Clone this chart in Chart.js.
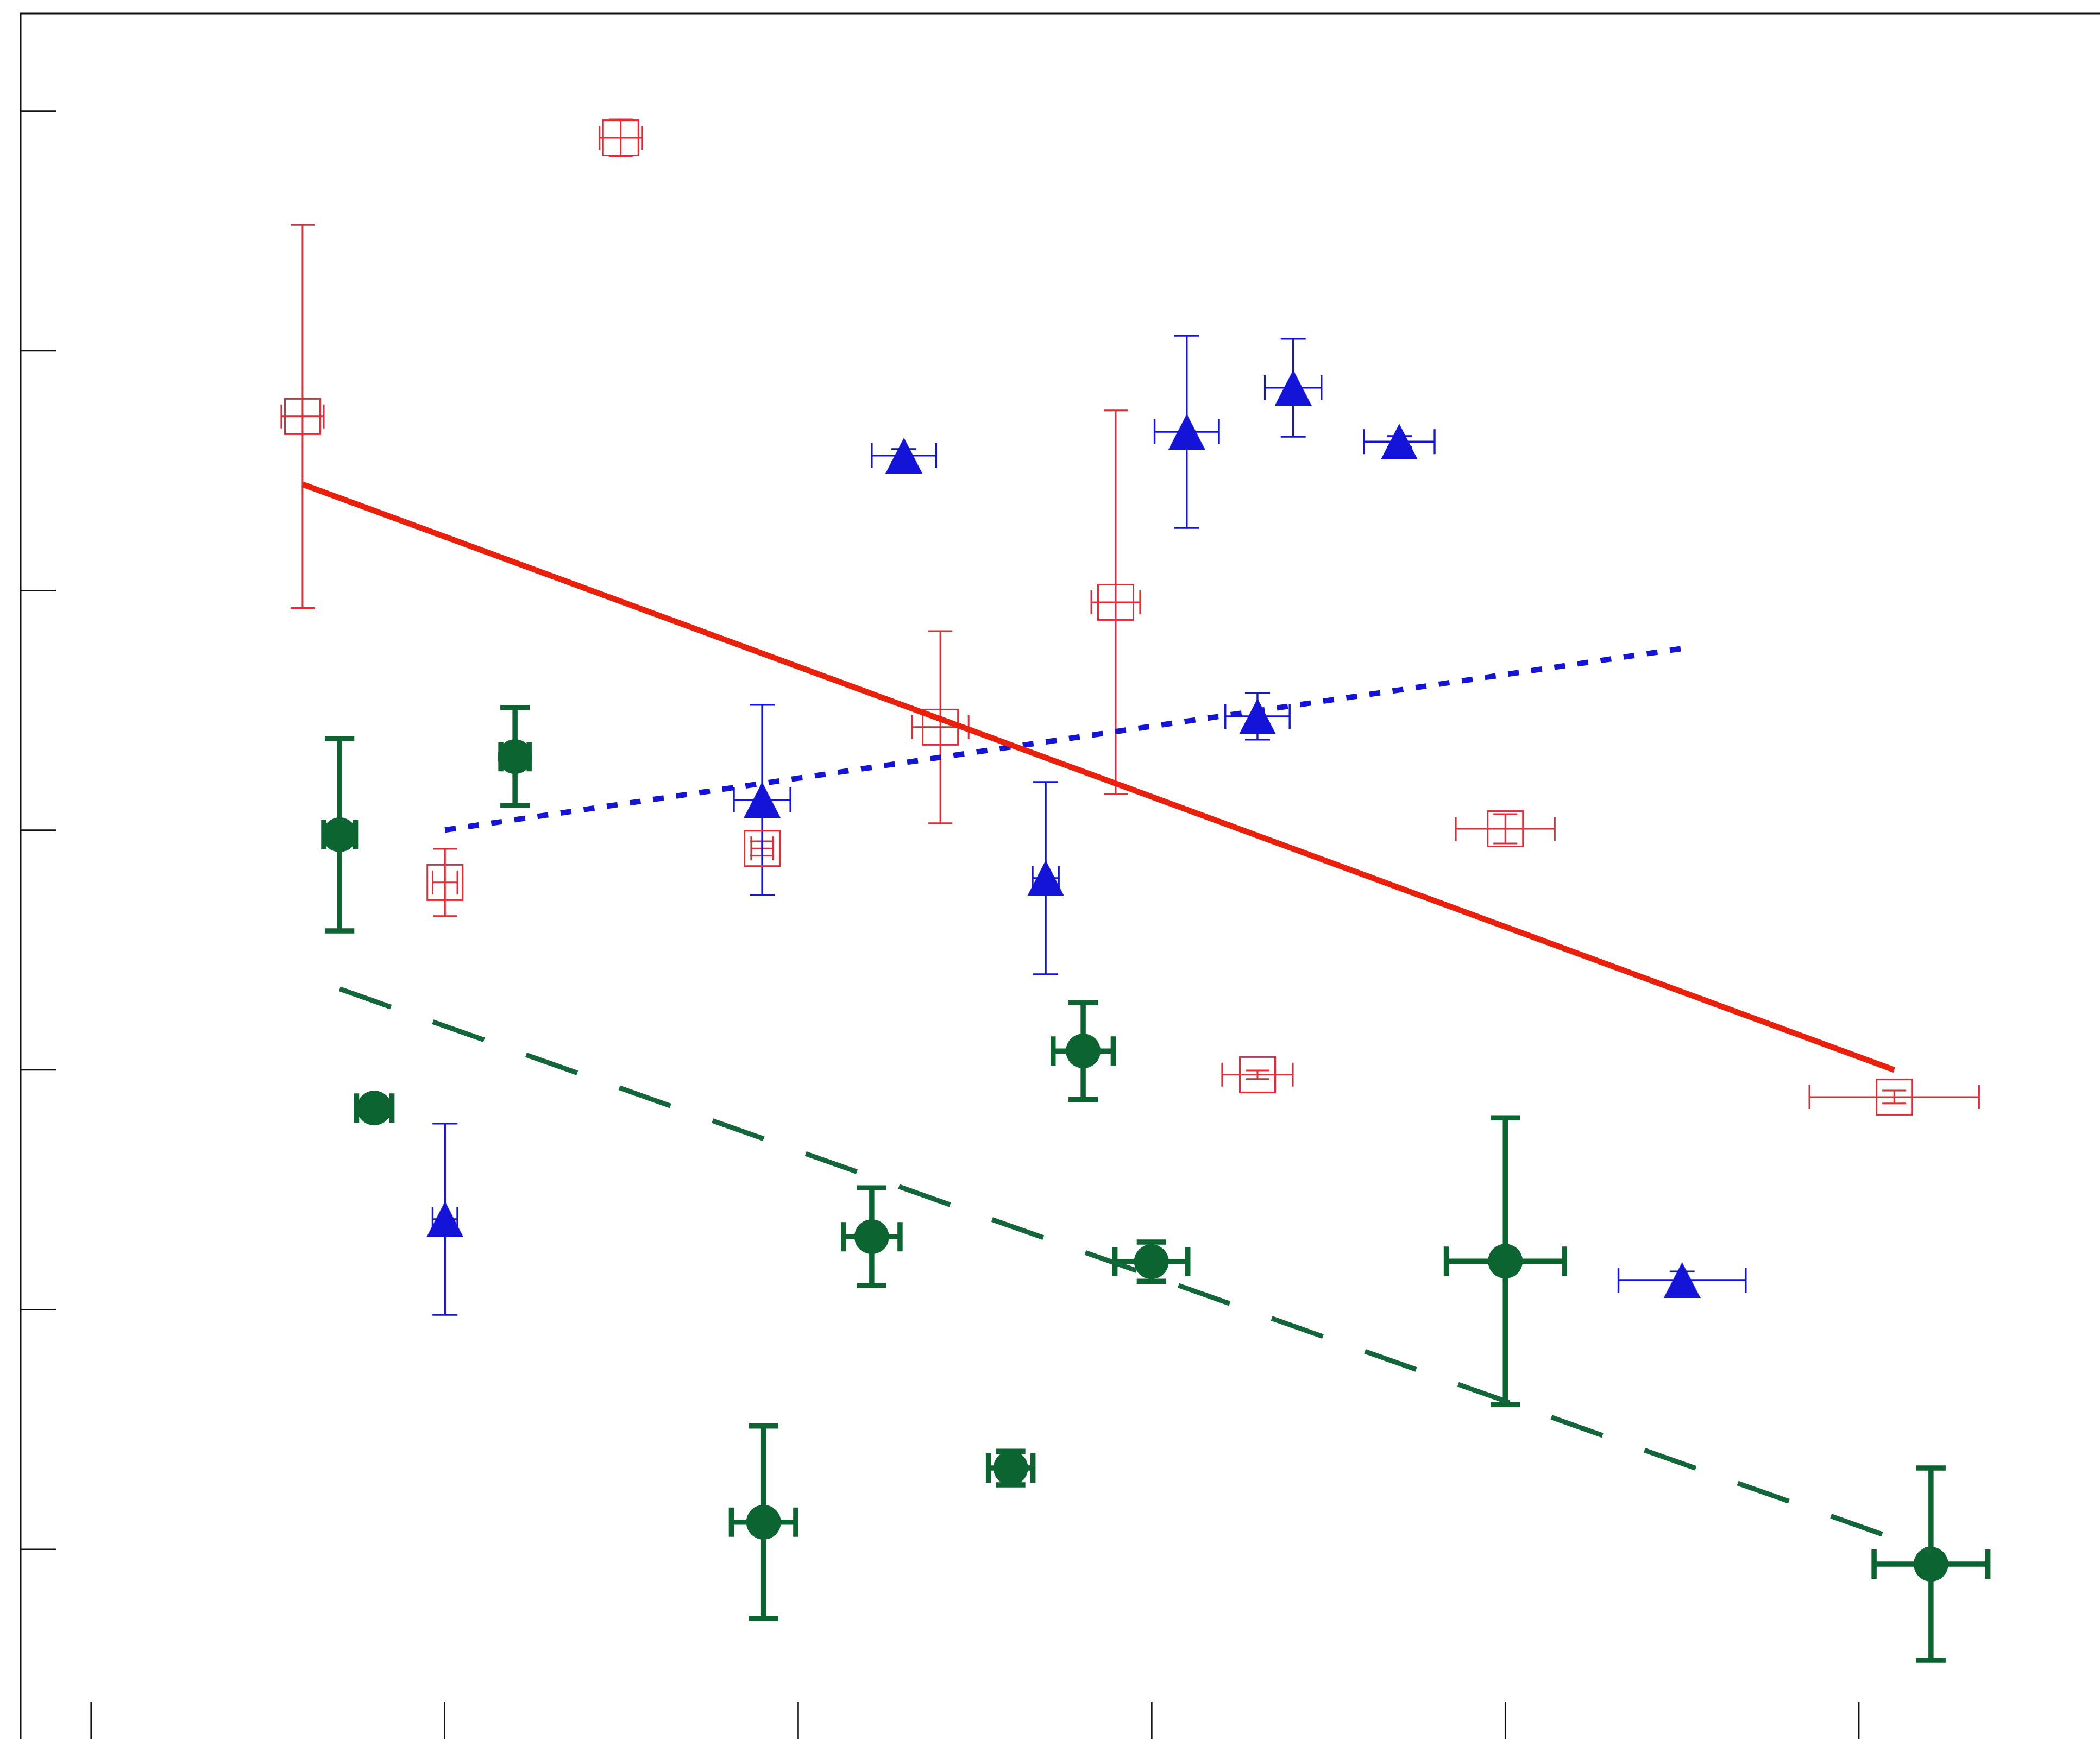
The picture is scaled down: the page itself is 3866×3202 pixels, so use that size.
<!DOCTYPE html>
<html>
<head>
<meta charset="utf-8">
<script src="https://cdn.jsdelivr.net/npm/chart.js@4.4.1/dist/chart.umd.min.js"></script>
<style>
  html, body { margin: 0; padding: 0; background: #ffffff; overflow: hidden; }
  #wrap { position: relative; width: 3866px; height: 3202px; }
  canvas { display: block; }
</style>
</head>
<body>
<div id="wrap"><canvas id="chart" width="3866" height="3202"></canvas></div>
<script>
// Axis extents and tick positions (axes carry tick marks only, no labels)
const xRange = [-0.1993, 5.682];
const yRange = [-0.7914, 6.4069];
const xTicks = [0, 1, 2, 3, 4, 5];
const yTicks = [0, 1, 2, 3, 4, 5, 6];

// Series A: open red squares
const squareX    = [0.598, 1.498, 1.001, 1.898, 2.402, 2.898, 3.299, 4.000, 5.100];
const squareY    = [4.726, 5.888, 2.782, 2.924, 3.430, 3.951, 1.980, 3.006, 1.887];
const squareXErr = [0.060, 0.060, 0.035, 0.031, 0.080, 0.069, 0.100, 0.140, 0.240];
const squareYErr = [0.799, 0.077, 0.140, 0.030, 0.401, 0.800, 0.018, 0.061, 0.027];

// Series B: filled blue triangles
const triangleX    = [1.001, 1.898, 2.299, 2.700, 3.099, 3.299, 3.400, 3.700, 4.500];
const triangleY    = [1.377, 3.126, 4.563, 2.800, 4.662, 3.475, 4.846, 4.621, 1.123];
const triangleXErr = [0.035, 0.080, 0.091, 0.037, 0.091, 0.091, 0.080, 0.100, 0.180];
const triangleYErr = [0.399, 0.397, 0.027, 0.401, 0.401, 0.097, 0.204, 0.023, 0.036];

// Series C: filled green circles
const circleX    = [0.703, 0.801, 1.199, 1.902, 2.208, 2.601, 2.806, 2.999, 4.000, 5.204];
const circleY    = [2.981, 1.841, 3.307, 0.113, 1.304, 0.339, 2.079, 1.200, 1.202, -0.062];
const circleXErr = [0.045, 0.050, 0.040, 0.091, 0.080, 0.063, 0.085, 0.103, 0.167, 0.161];
const circleYErr = [0.401, 0.030, 0.204, 0.401, 0.204, 0.070, 0.202, 0.082, 0.598, 0.401];

// Linear trend lines (end points)
const squareFitX   = [0.598, 5.100];
const squareFitY   = [4.443, 2.000];
const triangleFitX = [1.001, 4.500];
const triangleFitY = [3.001, 3.758];
const circleFitX   = [0.703, 5.204];
const circleFitY   = [2.338, -0.009];

const RED = '#e52a36';
const RED_LINE = '#e8200c';
const BLUE = '#1414d8';
const GREEN = '#0c6530';
const GREEN_LINE = '#13663a';

const toPoints = (xs, ys) => xs.map((x, i) => ({ x: x, y: ys[i] }));

// Marker images
function squareMarker() {
  const c = document.createElement('canvas');
  c.width = 70; c.height = 70;
  const g = c.getContext('2d');
  g.strokeStyle = RED; g.lineWidth = 3;
  g.strokeRect(2.5, 2.5, 65, 65);
  return c;
}
function triangleMarker() {
  const c = document.createElement('canvas');
  c.width = 68; c.height = 66;
  const g = c.getContext('2d');
  g.fillStyle = BLUE;
  g.beginPath();
  g.moveTo(34, 0); g.lineTo(68, 66); g.lineTo(0, 66); g.closePath();
  g.fill();
  return c;
}

// Error bars, drawn through the chart's own scales
const errorSets = [
  { xs: squareX, ys: squareY, ex: squareXErr, ey: squareYErr, color: RED, width: 3, cap: 22 },
  { xs: triangleX, ys: triangleY, ex: triangleXErr, ey: triangleYErr, color: BLUE, width: 3.4, cap: 23 },
  { xs: circleX, ys: circleY, ex: circleXErr, ey: circleYErr, color: GREEN, width: 9.5, cap: 27 }
];

const errorBarPlugin = {
  id: 'errorBars',
  beforeDatasetsDraw(chart) {
    const ctx = chart.ctx, sx = chart.scales.x, sy = chart.scales.y;
    ctx.save();
    ctx.lineCap = 'butt';
    errorSets.forEach(set => {
      ctx.strokeStyle = set.color;
      ctx.lineWidth = set.width;
      set.xs.forEach((xv, i) => {
        const yv = set.ys[i];
        const px = sx.getPixelForValue(xv), py = sy.getPixelForValue(yv);
        const y1 = sy.getPixelForValue(yv + set.ey[i]), y2 = sy.getPixelForValue(yv - set.ey[i]);
        const x1 = sx.getPixelForValue(xv - set.ex[i]), x2 = sx.getPixelForValue(xv + set.ex[i]);
        ctx.beginPath();
        // vertical bar with caps
        ctx.moveTo(px, y1); ctx.lineTo(px, y2);
        ctx.moveTo(px - set.cap, y1); ctx.lineTo(px + set.cap, y1);
        ctx.moveTo(px - set.cap, y2); ctx.lineTo(px + set.cap, y2);
        // horizontal bar with caps
        ctx.moveTo(x1, py); ctx.lineTo(x2, py);
        ctx.moveTo(x1, py - set.cap); ctx.lineTo(x1, py + set.cap);
        ctx.moveTo(x2, py - set.cap); ctx.lineTo(x2, py + set.cap);
        ctx.stroke();
      });
    });
    ctx.restore();
  }
};

// Box frame (left and top) with inward tick marks
const framePlugin = {
  id: 'frame',
  afterDraw(chart) {
    const ctx = chart.ctx, a = chart.chartArea, sx = chart.scales.x, sy = chart.scales.y;
    ctx.save();
    ctx.strokeStyle = '#111111';
    ctx.lineCap = 'butt';
    ctx.lineWidth = 3;
    ctx.beginPath();
    ctx.moveTo(a.left, a.bottom + 2);
    ctx.lineTo(a.left, a.top);
    ctx.lineTo(a.right + 2, a.top);
    ctx.stroke();
    ctx.lineWidth = 2.6;
    ctx.beginPath();
    yTicks.forEach(v => {
      const p = sy.getPixelForValue(v);
      ctx.moveTo(a.left, p); ctx.lineTo(a.left + 65, p);
    });
    xTicks.forEach(v => {
      const p = sx.getPixelForValue(v);
      ctx.moveTo(p, a.bottom + 2); ctx.lineTo(p, a.bottom - 69);
    });
    ctx.stroke();
    ctx.restore();
  }
};

new Chart(document.getElementById('chart'), {
  type: 'scatter',
  data: {
    datasets: [
      { label: 'fit A', data: toPoints(squareFitX, squareFitY), showLine: true, borderColor: RED_LINE,
        borderWidth: 10.5, pointRadius: 0, order: 0 },
      { label: 'fit B', data: toPoints(triangleFitX, triangleFitY), showLine: true, borderColor: BLUE,
        borderWidth: 10, borderDash: [20, 23], pointRadius: 0, order: 0 },
      { label: 'fit C', data: toPoints(circleFitX, circleFitY), showLine: true, borderColor: GREEN_LINE,
        borderWidth: 9, borderDash: [100, 82], pointRadius: 0, order: 0 },
      { label: 'A', data: toPoints(squareX, squareY), pointStyle: squareMarker(), pointRadius: 35, order: 1 },
      { label: 'B', data: toPoints(triangleX, triangleY), pointStyle: triangleMarker(), pointRadius: 34, order: 1 },
      { label: 'C', data: toPoints(circleX, circleY), pointStyle: 'circle', pointRadius: 32,
        backgroundColor: GREEN, borderColor: GREEN, borderWidth: 0, order: 1 }
    ]
  },
  options: {
    responsive: false,
    devicePixelRatio: 1,
    animation: false,
    layout: { autoPadding: false, padding: { left: 38, top: 25, right: 0, bottom: 0 } },
    plugins: { legend: { display: false }, tooltip: { enabled: false } },
    scales: {
      x: { type: 'linear', min: xRange[0], max: xRange[1], display: false },
      y: { type: 'linear', min: yRange[0], max: yRange[1], display: false }
    }
  },
  plugins: [errorBarPlugin, framePlugin]
});
</script>
</body>
</html>
